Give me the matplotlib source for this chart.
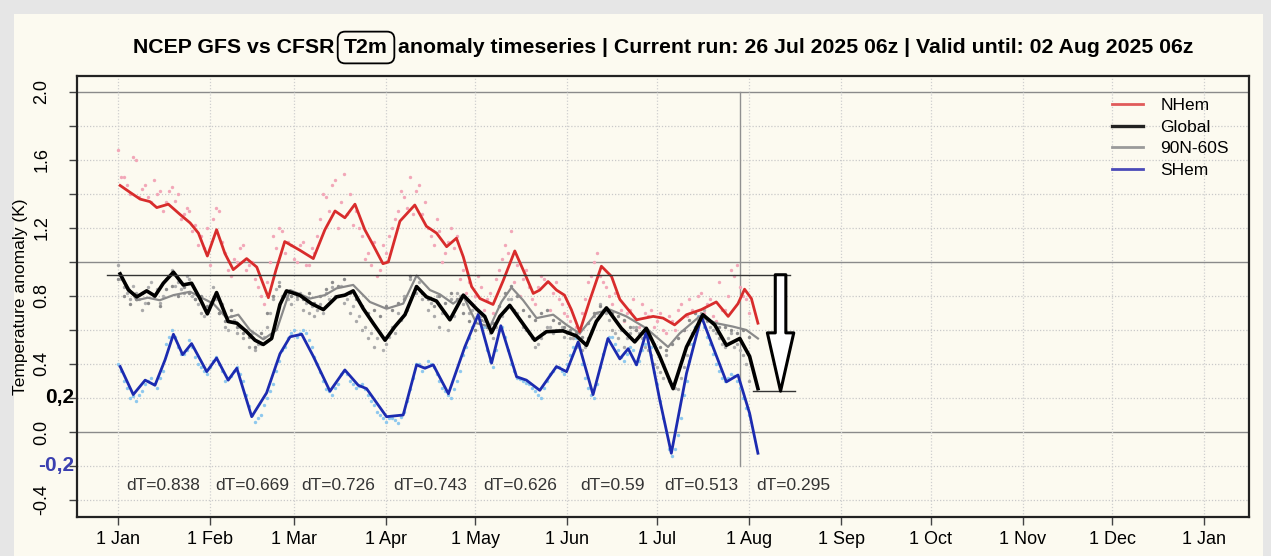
import numpy as np
import matplotlib
matplotlib.use("Agg")
import matplotlib.pyplot as plt
from matplotlib.lines import Line2D
from matplotlib.patches import Rectangle

plt.rcParams["font.family"] = ["Liberation Sans", "DejaVu Sans"]

# --- data (day of year 2025, anomaly in K) ---
month_days = [0, 31, 59, 90, 120, 151, 181, 212, 243, 273, 304, 334, 365]
month_labels = ["1 Jan", "1 Feb", "1 Mar", "1 Apr", "1 May", "1 Jun", "1 Jul",
                "1 Aug", "1 Sep", "1 Oct", "1 Nov", "1 Dec", "1 Jan"]

nhem_days = [0.7, 4, 7.4, 10.7, 13, 16.9, 20.8, 24.2, 27, 30, 33.1, 35.9, 38.7, 43.2, 46.6,
             50.5, 53, 56, 61, 65.6, 69.5, 72.9, 76.2, 79.6, 82.9, 85.7, 89, 90.8, 94.7,
             99.7, 103.6, 107, 110.4, 113.7, 116, 118.8, 121.6, 126, 129.4, 133.3, 136.7,
             139.5, 141.7, 144.5, 147.3, 150, 152.3, 155.1, 158.5, 162.4, 165.8, 168.6,
             174.2, 179.8, 183.1, 187, 191, 196, 201, 205, 208.3, 210.5, 212.8, 215]
nhem_vals = [1.45, 1.41, 1.37, 1.355, 1.32, 1.34, 1.28, 1.23, 1.17, 1.035, 1.19, 1.05, 0.955,
             1.02, 0.97, 0.79, 0.95, 1.12, 1.07, 1.02, 1.19, 1.30, 1.26, 1.34, 1.19, 1.10,
             0.99, 1.00, 1.24, 1.335, 1.21, 1.17, 1.09, 1.14, 1.03, 0.855, 0.785, 0.75, 0.89,
             1.065, 0.93, 0.815, 0.835, 0.885, 0.835, 0.805, 0.72, 0.59, 0.775, 0.975, 0.915,
             0.78, 0.66, 0.68, 0.67, 0.63, 0.69, 0.72, 0.765, 0.68, 0.755, 0.84, 0.785, 0.64]

glob_days = [0.7, 3.5, 6.3, 9.6, 12.4, 15.2, 18.6, 21.9, 24.7, 27.5, 30, 33.1, 37, 39.9, 43.2,
             46, 48.8, 51.6, 54.4, 56.6, 61, 65, 69, 73.4, 76.2, 79, 82.4, 85.7, 89.7, 93,
             96.4, 100.3, 103.6, 107, 111.5, 116, 120.4, 123.2, 125.5, 128.3, 131.6, 135.5,
             140, 143.9, 149.5, 154, 157.4, 160.7, 164.1, 169.1, 173.6, 177.5, 182, 186.5,
             191, 196.5, 200.5, 204.4, 208.9, 212.2, 215]
glob_vals = [0.93, 0.835, 0.795, 0.83, 0.80, 0.875, 0.94, 0.865, 0.875, 0.785, 0.695, 0.82,
             0.65, 0.64, 0.59, 0.54, 0.515, 0.55, 0.75, 0.83, 0.805, 0.755, 0.72, 0.795, 0.805,
             0.83, 0.725, 0.64, 0.54, 0.62, 0.69, 0.855, 0.795, 0.77, 0.66, 0.805, 0.725, 0.68,
             0.585, 0.68, 0.745, 0.65, 0.54, 0.59, 0.595, 0.565, 0.51, 0.65, 0.73, 0.61, 0.53,
             0.61, 0.445, 0.255, 0.50, 0.69, 0.63, 0.51, 0.55, 0.445, 0.255]

ex_days = [0.7, 6.3, 10, 14, 18.6, 24.2, 27.5, 32, 36.5, 40.4, 44.3, 48.8, 53.3, 57.8, 64.5,
           69.5, 73.4, 79, 84.6, 90.2, 95.8, 100.3, 104.8, 108.1, 112.6, 116, 120.4, 125,
           128.8, 132.2, 136.1, 140.6, 146.2, 150.7, 155.1, 160.7, 165.2, 170.8, 177.5,
           184.8, 188.7, 195.4, 201, 206.6, 211.1, 215]
ex_vals = [0.92, 0.775, 0.79, 0.775, 0.805, 0.825, 0.795, 0.755, 0.67, 0.69, 0.60, 0.545,
           0.60, 0.835, 0.785, 0.805, 0.845, 0.865, 0.765, 0.725, 0.755, 0.92, 0.835, 0.81,
           0.755, 0.80, 0.64, 0.62, 0.765, 0.85, 0.775, 0.67, 0.69, 0.63, 0.58, 0.70, 0.72,
           0.68, 0.61, 0.50, 0.58, 0.68, 0.64, 0.62, 0.60, 0.55]

shem_days = [0.7, 5.1, 9.1, 12.4, 15.8, 18.6, 21.7, 24.7, 29.8, 33.1, 37, 39.9, 44.9, 49.9,
             54.4, 57.8, 61.7, 65.6, 71.2, 76.2, 80.7, 83.5, 90.2, 95.8, 100.3, 103.1, 105.9,
             111, 116.5, 121, 125.5, 128.6, 133.9, 137.2, 141.7, 147.3, 150.7, 154.6, 159.6,
             164.6, 168.6, 171.4, 174.2, 177.5, 182, 185.9, 191, 196, 199.9, 204.4, 208.3,
             212.2, 215]
shem_vals = [0.385, 0.22, 0.305, 0.275, 0.425, 0.575, 0.455, 0.52, 0.355, 0.435, 0.305, 0.375,
             0.09, 0.23, 0.46, 0.56, 0.575, 0.445, 0.24, 0.365, 0.275, 0.255, 0.09, 0.10,
             0.395, 0.375, 0.395, 0.225, 0.50, 0.69, 0.405, 0.625, 0.325, 0.305, 0.245, 0.385,
             0.355, 0.53, 0.22, 0.55, 0.43, 0.49, 0.395, 0.59, 0.19, -0.125, 0.345, 0.68,
             0.50, 0.295, 0.335, 0.11, -0.125]

# daily analysis values shown as dots: even days and odd days, 1 Jan .. 1 Aug
even_days = np.arange(0, 213, 2)
odd_days = np.arange(1, 212, 2)
nhem_even = [1.66, 1.50, 1.40, 1.60, 1.43, 1.38, 1.48, 1.42, 1.35, 1.44, 1.40, 1.28, 1.30, 1.22, 1.15, 1.20,
             1.25, 1.30, 1.05, 0.92, 1.00, 1.10, 0.98, 0.90, 0.80, 0.88, 1.15, 1.20, 1.05, 1.10,
             1.00, 1.12, 0.98, 1.05, 1.25, 1.38, 1.45, 1.20, 1.52, 1.40, 1.30, 1.15, 1.05, 1.12, 0.95, 1.05,
             1.20, 1.30, 1.38, 1.50, 1.42, 1.28, 1.20, 1.10, 1.18, 1.05, 1.20, 1.15, 0.95, 0.88, 0.80, 0.85,
             0.78, 0.70, 0.95, 1.10, 1.18, 0.98, 0.90, 0.85, 0.75, 0.92, 0.88, 0.82, 0.78, 0.70, 0.65,
             0.62, 0.70, 0.88, 1.00, 0.92, 0.85, 0.75, 0.80, 0.65, 0.72, 0.60, 0.75, 0.68, 0.62, 0.70, 0.58,
             0.65, 0.72, 0.60, 0.78, 0.70, 0.82, 0.75, 0.68, 0.88, 0.72, 0.95, 0.98, 0.80, 0.70]
nhem_odd = [1.50, 1.45, 1.62, 1.38, 1.45, 1.35, 1.40, 1.30, 1.42, 1.36, 1.25, 1.32, 1.18, 1.10, 1.08, 0.98,
            1.32, 1.12, 0.95, 1.02, 1.08, 0.95, 1.00, 0.85, 0.75, 1.00, 1.08, 1.18, 1.12, 1.02,
            1.10, 0.98, 1.08, 1.15, 1.40, 1.30, 1.48, 1.35, 1.28, 1.22, 1.20, 1.02, 0.98, 0.92, 1.10, 1.15,
            1.25, 1.42, 1.32, 1.28, 1.45, 1.35, 1.15, 1.25, 1.00, 1.12, 1.08, 0.90, 0.82, 0.75, 0.92, 0.72,
            0.82, 0.90, 1.02, 1.05, 0.88, 0.80, 0.95, 0.78, 0.85, 0.90, 0.72, 0.88, 0.75, 0.68, 0.55,
            0.58, 0.78, 0.92, 1.05, 0.88, 0.80, 0.82, 0.72, 0.70, 0.78, 0.62, 0.70, 0.72, 0.65, 0.60, 0.68,
            0.60, 0.75, 0.68, 0.72, 0.80, 0.70, 0.78, 0.65, 0.72, 0.80, 0.92, 0.85, 0.78]
glob_even = [0.98, 0.85, 0.78, 0.82, 0.72, 0.85, 0.80, 0.76, 0.90, 0.95, 0.88, 0.82, 0.90, 0.78, 0.70, 0.72,
             0.85, 0.70, 0.62, 0.68, 0.58, 0.55, 0.50, 0.48, 0.52, 0.62, 0.78, 0.88, 0.80, 0.75,
             0.78, 0.72, 0.70, 0.68, 0.75, 0.82, 0.85, 0.80, 0.76, 0.70, 0.65, 0.60, 0.55, 0.50, 0.58, 0.52,
             0.62, 0.70, 0.80, 0.90, 0.82, 0.78, 0.72, 0.68, 0.62, 0.70, 0.78, 0.82, 0.75, 0.70, 0.65, 0.68,
             0.62, 0.55, 0.60, 0.72, 0.78, 0.70, 0.62, 0.58, 0.50, 0.55, 0.62, 0.58, 0.60, 0.56, 0.55,
             0.50, 0.48, 0.55, 0.68, 0.75, 0.70, 0.60, 0.55, 0.50, 0.58, 0.62, 0.55, 0.48, 0.40, 0.35, 0.45,
             0.28, 0.25, 0.38, 0.52, 0.62, 0.70, 0.65, 0.60, 0.55, 0.50, 0.58, 0.52, 0.45, 0.30]
glob_odd = [0.90, 0.82, 0.86, 0.78, 0.76, 0.88, 0.84, 0.80, 0.92, 0.86, 0.84, 0.92, 0.80, 0.75, 0.68, 0.75,
            0.78, 0.75, 0.60, 0.66, 0.62, 0.60, 0.58, 0.52, 0.56, 0.70, 0.84, 0.80, 0.78, 0.82,
            0.82, 0.76, 0.74, 0.72, 0.70, 0.78, 0.80, 0.86, 0.78, 0.74, 0.68, 0.62, 0.58, 0.55, 0.48, 0.56,
            0.58, 0.66, 0.72, 0.82, 0.88, 0.80, 0.76, 0.80, 0.70, 0.60, 0.68, 0.80, 0.78, 0.72, 0.70, 0.65,
            0.58, 0.62, 0.68, 0.78, 0.72, 0.66, 0.60, 0.55, 0.52, 0.58, 0.62, 0.60, 0.62, 0.58, 0.55,
            0.52, 0.50, 0.58, 0.70, 0.72, 0.66, 0.58, 0.60, 0.55, 0.62, 0.58, 0.50, 0.45, 0.38, 0.32, 0.30,
            0.26, 0.32, 0.45, 0.58, 0.66, 0.72, 0.62, 0.58, 0.52, 0.55, 0.50, 0.48, 0.40]
ex_even = [0.90, 0.80, 0.75, 0.78, 0.82, 0.76, 0.80, 0.74, 0.84, 0.86, 0.80, 0.85, 0.82, 0.78, 0.80, 0.74,
           0.78, 0.70, 0.65, 0.72, 0.62, 0.58, 0.56, 0.50, 0.58, 0.70, 0.80, 0.86, 0.82, 0.80,
           0.80, 0.78, 0.82, 0.76, 0.80, 0.84, 0.88, 0.86, 0.90, 0.82, 0.78, 0.74, 0.70, 0.72, 0.68, 0.74,
           0.72, 0.76, 0.78, 0.92, 0.86, 0.82, 0.78, 0.74, 0.80, 0.76, 0.82, 0.78, 0.70, 0.65, 0.60, 0.66,
           0.62, 0.64, 0.74, 0.82, 0.86, 0.80, 0.72, 0.68, 0.66, 0.70, 0.72, 0.66, 0.64, 0.62, 0.60,
           0.58, 0.56, 0.64, 0.70, 0.74, 0.72, 0.70, 0.68, 0.66, 0.62, 0.60, 0.58, 0.55, 0.52, 0.50, 0.48,
           0.52, 0.55, 0.60, 0.66, 0.70, 0.68, 0.66, 0.64, 0.62, 0.62, 0.60, 0.58, 0.60, 0.56]
shem_even = [0.40, 0.30, 0.20, 0.18, 0.24, 0.30, 0.28, 0.32, 0.52, 0.60, 0.50, 0.46, 0.54, 0.44, 0.38, 0.34,
             0.42, 0.40, 0.30, 0.33, 0.38, 0.30, 0.15, 0.06, 0.10, 0.20, 0.28, 0.42, 0.50, 0.58,
             0.56, 0.60, 0.54, 0.44, 0.35, 0.25, 0.22, 0.28, 0.36, 0.30, 0.26, 0.28, 0.22, 0.16, 0.10, 0.06,
             0.08, 0.05, 0.12, 0.25, 0.40, 0.36, 0.42, 0.38, 0.30, 0.24, 0.20, 0.30, 0.45, 0.55, 0.66, 0.70,
             0.48, 0.38, 0.60, 0.56, 0.40, 0.32, 0.30, 0.28, 0.24, 0.20, 0.30, 0.36, 0.38, 0.34, 0.45,
             0.55, 0.40, 0.26, 0.20, 0.38, 0.52, 0.56, 0.48, 0.42, 0.50, 0.40, 0.48, 0.58, 0.35, 0.18, 0.00,
             -0.14, -0.02, 0.22, 0.42, 0.62, 0.66, 0.56, 0.46, 0.36, 0.30, 0.34, 0.30, 0.20, 0.10]
shem_odd = [0.36, 0.26, 0.21, 0.22, 0.28, 0.32, 0.26, 0.36, 0.56, 0.56, 0.46, 0.48, 0.50, 0.40, 0.36, 0.38,
            0.44, 0.36, 0.32, 0.36, 0.34, 0.22, 0.10, 0.08, 0.16, 0.24, 0.36, 0.48, 0.55, 0.60,
            0.58, 0.58, 0.50, 0.40, 0.30, 0.24, 0.26, 0.34, 0.34, 0.28, 0.27, 0.25, 0.18, 0.12, 0.08, 0.08,
            0.07, 0.09, 0.18, 0.32, 0.40, 0.38, 0.40, 0.34, 0.26, 0.22, 0.25, 0.36, 0.50, 0.62, 0.68, 0.62,
            0.42, 0.48, 0.62, 0.48, 0.36, 0.31, 0.29, 0.26, 0.22, 0.26, 0.34, 0.38, 0.36, 0.40, 0.50,
            0.50, 0.32, 0.22, 0.28, 0.46, 0.56, 0.52, 0.44, 0.46, 0.48, 0.42, 0.52, 0.50, 0.28, 0.08, -0.10,
            -0.10, 0.08, 0.30, 0.52, 0.68, 0.62, 0.52, 0.40, 0.32, 0.32, 0.33, 0.26, 0.14]

dt_days = [15, 45, 74, 105, 135, 166, 196, 227]
dt_labels = ["dT=0.838", "dT=0.669", "dT=0.726", "dT=0.743",
             "dT=0.626", "dT=0.59", "dT=0.513", "dT=0.295"]
dt_level = -0.315

run_day = 209          # current run marker
top_mark = 0.925       # hand-drawn reference levels
low_mark = 0.24
arrow_day = 222.6

cream = "#fcfaf0"

fig = plt.figure(figsize=(12.71, 5.56), dpi=100, facecolor="#e6e6e6")
fig.patches.append(Rectangle((14 / 1271, 0), 1 - 22 / 1271, 1 - 14 / 556,
                             transform=fig.transFigure, facecolor=cream,
                             edgecolor="none", zorder=-5))
ax = fig.add_axes([77 / 1271, 1 - 517 / 556, 1172 / 1271, 441 / 556])
ax.set_facecolor(cream)

ax.set_xlim(-13.8, 380)
ax.set_ylim(-0.5, 2.094)

# grid
yt = np.round(np.arange(-0.4, 2.01, 0.2), 1)
for v in yt:
    if v in (0.0, 1.0, 2.0):
        ax.axhline(v, color="#8a8a8a", lw=1.0, zorder=1)
    else:
        ax.axhline(v, color="#c9c9c9", lw=0.9, ls=(0, (1, 1.5)), zorder=1)
for d in month_days:
    ax.axvline(d, color="#cfcfcf", lw=0.9, ls=(0, (1, 1.5)), zorder=1)
ax.plot([run_day, run_day], [-0.2, 2.0], color="#909090", lw=1.0, zorder=1)

# dots
for days, vals, col in [(even_days, nhem_even, "#f2a7b8"), (odd_days, nhem_odd, "#f2a7b8"),
                        (even_days, glob_even, "#a9a9a9"), (odd_days, glob_odd, "#b0b0b0"),
                        (even_days, ex_even, "#8c8c8c"),
                        (even_days, shem_even, "#8ec8ee"), (odd_days, shem_odd, "#8ec8ee")]:
    ax.scatter(days, vals, s=6, color=col, lw=0, zorder=2)

# smoothed lines
ax.plot(ex_days, ex_vals, color="#8a8a8a", lw=1.6, zorder=3)
ax.plot(nhem_days, nhem_vals, color="#d82c2c", lw=2.0, zorder=4)
ax.plot(shem_days, shem_vals, color="#1c2bb0", lw=2.0, zorder=4)
ax.plot(glob_days, glob_vals, color="black", lw=2.6, zorder=5)

# hand-drawn annotation
ax.plot([-3.7, 225.7], [top_mark, top_mark], color="#333333", lw=1.0, zorder=6)
ax.plot([213.2, 227.3], [low_mark, low_mark], color="#333333", lw=1.0, zorder=6)
ax.annotate("", xy=(arrow_day, low_mark), xytext=(arrow_day, top_mark),
            arrowprops=dict(arrowstyle="simple,head_length=2.1,head_width=0.95,tail_width=0.38",
                            fc="white", ec="black", lw=2.2, mutation_scale=20,
                            shrinkA=0, shrinkB=0), zorder=7)

for d, t in zip(dt_days, dt_labels):
    ax.text(d, dt_level, t, ha="center", va="center", fontsize=12.5, color="#333333", zorder=6)

# axes
ax.set_xticks(month_days)
ax.set_xticklabels(month_labels, fontsize=13)
ax.set_yticks(yt)
ax.set_yticklabels(["" if round(v * 10) % 4 else f"{v:.1f}" for v in yt],
                   rotation=90, va="center", fontsize=13)
ax.tick_params(direction="out", length=6, width=1, color="#444444")
ax.tick_params(axis="x", pad=4)
ax.tick_params(axis="y", pad=13)
for sp in ax.spines.values():
    sp.set_linewidth(1.6)
    sp.set_color("#222222")
ax.set_ylabel("Temperature anomaly (K)", fontsize=12.5, labelpad=4)

# overlaid labels
ax.text(-0.002, 0.2, "0,2", transform=ax.get_yaxis_transform(), ha="right", va="center",
        fontsize=15, fontweight="bold", color="black")
ax.text(-0.002, -0.2, "-0,2", transform=ax.get_yaxis_transform(), ha="right", va="center",
        fontsize=15, fontweight="bold", color="#3a3fb0")

# legend
handles = [Line2D([], [], color="#e05a5a", lw=2),
           Line2D([], [], color="#222222", lw=2.4),
           Line2D([], [], color="#9a9a9a", lw=2),
           Line2D([], [], color="#4a4ab8", lw=2)]
ax.legend(handles, ["NHem", "Global", "90N-60S", "SHem"], loc="upper right",
          bbox_to_anchor=(0.996, 0.985), frameon=False, fontsize=12.5, handlelength=1.75,
          handletextpad=1.0, labelspacing=0.36)

# title in parts so T2m gets its box
tsize = 15.3
t1 = fig.text(133 / 1271, 1 - 53 / 556, "NCEP GFS vs CFSR", fontsize=tsize,
              fontweight="bold", ha="left", va="baseline")
t2 = ax.annotate("T2m", xy=(1, 0), xycoords=t1, xytext=(7, 0), textcoords="offset points",
                 va="bottom", ha="left", fontsize=tsize, fontweight="bold",
                 annotation_clip=False,
                 bbox=dict(boxstyle="round,pad=0.3,rounding_size=0.35", fc="none",
                           ec="black", lw=1.3))
ax.annotate("anomaly timeseries | Current run: 26 Jul 2025 06z | Valid until: 02 Aug 2025 06z",
            xy=(1, 0), xycoords=t2, xytext=(7, 0), textcoords="offset points",
            va="bottom", ha="left", fontsize=tsize, fontweight="bold", annotation_clip=False)

fig.savefig("out.png", dpi=100, facecolor=fig.get_facecolor())
